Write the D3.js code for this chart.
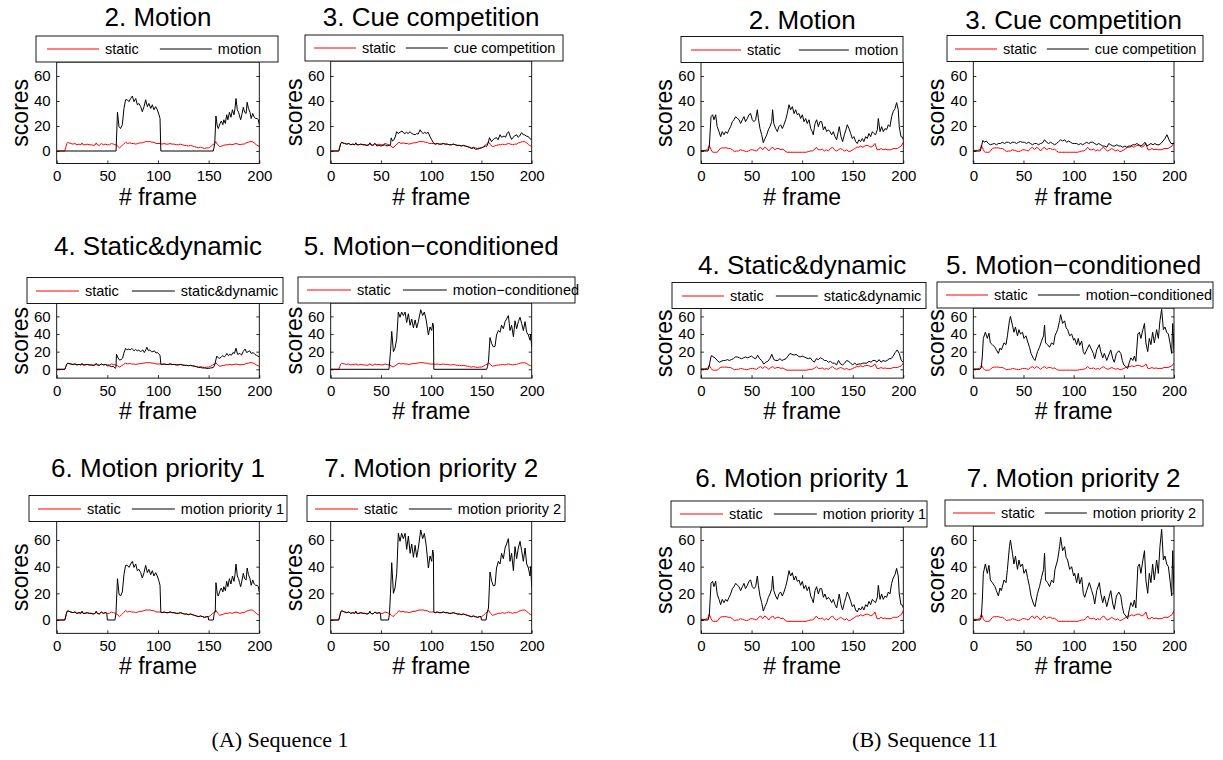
<!DOCTYPE html>
<html>
<head>
<meta charset="utf-8">
<script src="https://cdn.jsdelivr.net/npm/d3@7"></script>
<style>
body{margin:0;background:#fff}
svg{display:block}
</style>
</head>
<body>
<svg width="1223" height="760"></svg>
<script>
////////////////////////////////////////////////////////////// data
var frameTicks=[0,50,100,150,200];
var scoreTicks=[0,20,40,60];
var titles=['2. Motion','3. Cue competition','4. Static&dynamic','5. Motion\u2212conditioned','6. Motion priority 1','7. Motion priority 2'];
var labels=['motion','cue competition','static&dynamic','motion\u2212conditioned','motion priority 1','motion priority 2'];
var captions=['(A) Sequence 1','(B) Sequence 11'];

// sequence 1: [frame, score]
var staticA=[[0,0],[8,0],[9,3],[10,6],[11,7],[12,6.5],[14,6],[16,5.5],[18,6],[20,5],[22,5.5],[24,5],[25,6.5],[26,5],[28,5],[30,5.5],[32,5],[34,5],[36,4.5],[38,5],[39,6.5],[40,5],[42,4.5],[44,6],[46,5],[48,5.5],[50,5],
[52,5],[54,6],[56,5.5],[58,5],[60,4],[62,2.5],[64,4],[66,5.5],[68,7],[70,6],[72,6.5],[74,6],[76,6],[78,5.5],[80,6],[82,6.5],[84,6.5],[86,7],[88,7.5],[90,7.5],[92,7.5],[94,7],[96,7],[98,6],[100,6],[102,6],
[104,5.5],[106,6],[108,5.5],[110,5.5],[112,6],[114,5.5],[116,5.5],[118,5],[120,5],[122,5.5],[124,5],[126,4.5],[128,4.5],[130,4],[132,4.5],[134,4],[136,3.5],[138,3],[140,2.5],[142,3],[144,2.5],[146,2],[148,2.5],[150,2.5],
[152,3.5],[154,5],[156,6],[157,7.5],[159,5],[161,3.5],[163,4],[165,4.5],[167,5],[169,5],[171,5.5],[173,5],[175,5.5],[177,6],[179,5.5],[181,5],[183,5.5],[185,5.5],[187,6.5],[189,7],[191,7.5],[193,7.5],[195,6.5],[197,5],[199,4],[200,3.5]];
var motionA=[[0,0],[57.6,0],[58.6,0],[60,31],[61.5,19.5],[63,18],[64.8,21],[66.4,34],[68,41],[69.7,41],[71.4,39.5],[73,42],[74.7,44],[76.3,39.5],[78,42],[79.6,37],[81.2,38],[82.9,35.5],[84.5,31.5],[86.2,35.5],[87.8,41],[89.5,35.5],[91,38],[92.8,34],[94.4,37],[96,33],[97.7,35.5],[99.3,33],[101,29],[102,26],[102.8,0],
[154.6,0],[156,6],[157.2,28],[158.5,20],[159.5,18],[161,21.6],[162.5,24],[164,21],[165,25],[166.5,22],[167.8,29],[169,25],[170.5,31],[172,27],[173.5,33],[175,29],[176,34],[177,42],[178.3,33],[179.5,31],[180.5,28],[181.6,25],[183,30],[184.2,35],[185.5,31],[187,30],[188,39],[189.3,34],[190.8,31],[192,26],[193.5,30],[195,27],[196.5,26],[198,26],[199,25],[200,21]];
var cueA=[[0,0],[8,0],[9,3],[10,6],[11,7],[12,6.5],[14,6],[16,5.5],[18,6],[20,5],[22,5.5],[24,5],[25,6.5],[26,5],[28,5],[30,5.5],[32,5],[34,5],[36,4.5],[38,5],[39,6.5],[40,5],[42,4.5],[44,6],
[46,4],[48,4.5],[50,4],[52,4.5],[54,5],[56,4],[58,4.5],[59.5,5],[60.2,10.5],[61.5,8],[63,9],[64.5,12],[65.6,15.5],[67,14],[69,15],[71,16],[72.5,14.5],[74,14],[75.5,15],[77,14],[79,15.5],[80.5,14],[82,13.5],[84,13],[85.5,14],[87,13.5],[89,17],[90.5,15],[92,14],[93.5,15],[95,14],[97,15],[98.5,12],[100.5,9],[102,6.7],[104,5.5],
[106,6],[108,5.5],[110,5.5],[112,6],[114,5.5],[116,5.5],[118,5],[120,5],[122,5.5],[124,5],[126,4.5],[128,4.5],[130,4],[132,4.5],[134,4],[136,3.5],[138,3],
[140,2],[142,2.5],[144,1.5],[146,1.5],[148,2],[150,2.5],[152,3],[154,4],[155,3.5],[156.5,6],[158,10.7],[160,7.5],[161.5,9],[163,10],[165,10.7],[166.5,9],[168.5,13],[170,11],[172.5,12],[174,11],[175.5,14],[177,15.5],[178.5,12],[180,9.3],[181.5,11],[183,12],[185,13],[186.5,11],[188,12],[190,14.7],[191.5,13],[193,13],[194.5,12],[196.7,11.5],[198,10],[199,9.5],[200,9.3]];
var dynA=[[0,0],[8,0],[9,3],[10,6],[11,7],[12,6.5],[14,6],[16,5.5],[18,6],[20,5],[22,5.5],[24,5],[25,6.5],[26,5],[28,5],[30,5.5],[32,5],[34,5],[36,4.5],[38,5],[39,6.5],[40,5],[42,4.5],[44,6],[46,5],[48,5.5],
[50,4],[52,4],[54,3],[56,3.5],[57.6,1],[58.5,2],[59,17],[60.5,13],[62,10.5],[63.5,11],[65,12.5],[66.5,19],[68,23.8],[69.5,22],[71,23],[72.5,22],[74,23.5],[75,22.6],[76.5,21],[78,22.5],[79.5,21],[81,22],[82.5,20],[84,21],[85,22],[86.5,19],[88,22],[89,25],[90.5,21],[92,22],[93.5,20],[95,20],[96.5,21],[98,18.5],[99.5,19],[101,17],[102,16],[102.8,6],[104,5.5],
[106,6],[108,5.5],[110,5.5],[112,6],[114,5.5],[116,5.5],[118,5],[120,5],[122,5.5],[124,5],[126,4.5],[128,4.5],[130,4],[132,4.5],[134,4],[136,3.5],[138,3],
[140,2],[142,2],[144,1.5],[146,1.5],[148,1],[150,1],[152,1.5],[154.6,2],[156,5],[158,15],[159.5,13],[161,12.5],[162.5,14],[164,15.5],[165.5,14],[167,16],[168,18],[169.5,15.5],[171,17],[172.5,16],[174,19],[175.5,18],[177,24],[178.5,17],[180,17.5],[181,18],[182.5,16],[184,20],[186,23],[187.5,19],[189,20],[190.5,21],[192,18],[194,19],[195.5,17],[197,16],[198.5,15],[200,14]];
var condA=[[0,0],[58,0],[59.5,20],[60.7,43],[62.4,20],[64,24],[65.7,35],[67.3,65],[69,59],[70.6,65],[72.3,61],[74,65],[75.6,53],[77.3,63],[79,50],[80.6,57],[82.3,47],[84,56],[85.6,47],[87.2,54],[89.6,67.5],[91.5,61],[93.2,65],[95,56],[97.2,39],[98.8,48],[100.5,44],[101.5,52.5],[102.2,50],[102.6,0],
[155.2,0],[156,3],[157,9],[158.5,36],[160.2,29],[161.9,25.5],[163.5,26],[165,39],[166.8,44],[168.5,42],[170,50],[171.8,46],[173.5,54],[175,57],[176.8,61],[178.4,44],[180,50],[181.8,37],[183.4,55],[185,46],[186.7,54],[188.4,59],[190,52],[191.7,44],[193.4,54],[195,42],[196.7,39],[198.3,33],[199,40],[200,25]];
var prio1A=[[0,0],[8,0],[9,3],[10,6],[11,7],[12,6.5],[14,6],[16,5.5],[18,6],[20,5],[22,5.5],[24,5],[25,6.5],[26,5],[28,5],[30,5.5],[32,5],[34,5],[36,4.5],[38,5],[39,6.5],[40,5],[42,4.5],[44,6],[46,5],[48,5.5],
[49.5,5],[50,0],[57.5,0],[58.5,5],[60,31],[61.5,19.5],[63,18],[64.8,21],[66.4,34],[68,41],[69.7,41],[71.4,39.5],[73,42],[74.7,44],[76.3,39.5],[78,42],[79.6,37],[81.2,38],[82.9,35.5],[84.5,31.5],[86.2,35.5],[87.8,41],[89.5,35.5],[91,38],[92.8,34],[94.4,37],[96,33],[97.7,35.5],[99.3,33],[101,29],[102,26],[102.8,6],[104,5.5],
[106,6],[108,5.5],[110,5.5],[112,6],[114,5.5],[116,5.5],[118,5],[120,5],[122,5.5],[124,5],[126,4.5],[128,4.5],[130,4],[132,4.5],[134,4],[136,3.5],[138,3],[140,2.5],[142,3],[144,2.5],[146,2],[148,2.5],[149.5,2.5],[150,0],[154.6,0],[155.5,5],[156.5,6],
[157.2,28],[158.5,20],[159.5,18],[161,21.6],[162.5,24],[164,21],[165,25],[166.5,22],[167.8,29],[169,25],[170.5,31],[172,27],[173.5,33],[175,29],[176,34],[177,42],[178.3,33],[179.5,31],[180.5,28],[181.6,25],[183,30],[184.2,35],[185.5,31],[187,30],[188,39],[189.3,34],[190.8,31],[192,26],[193.5,30],[195,27],[196.5,26],[198,26],[199,25],[200,21]];
var prio2A=[[0,0],[8,0],[9,3],[10,6],[11,7],[12,6.5],[14,6],[16,5.5],[18,6],[20,5],[22,5.5],[24,5],[25,6.5],[26,5],[28,5],[30,5.5],[32,5],[34,5],[36,4.5],[38,5],[39,6.5],[40,5],[42,4.5],[44,6],[46,5],[48,5.5],
[49.5,5],[50,0],[57.5,0],[58.5,5],[59.5,20],[60.7,43],[62.4,20],[64,24],[65.7,35],[67.3,65],[69,59],[70.6,65],[72.3,61],[74,65],[75.6,53],[77.3,63],[79,50],[80.6,57],[82.3,47],[84,56],[85.6,47],[87.2,54],[89.6,67.5],[91.5,61],[93.2,65],[95,56],[97.2,39],[98.8,48],[100.5,44],[101.5,52.5],[102.2,50],[102.6,6],[104,5.5],
[106,6],[108,5.5],[110,5.5],[112,6],[114,5.5],[116,5.5],[118,5],[120,5],[122,5.5],[124,5],[126,4.5],[128,4.5],[130,4],[132,4.5],[134,4],[136,3.5],[138,3],[140,2.5],[142,3],[144,2.5],[146,2],[148,2.5],[149.5,2.5],[150,0],[154.6,0],[155.5,5],[157,9],
[158.5,36],[160.2,29],[161.9,25.5],[163.5,26],[165,39],[166.8,44],[168.5,42],[170,50],[171.8,46],[173.5,54],[175,57],[176.8,61],[178.4,44],[180,50],[181.8,37],[183.4,55],[185,46],[186.7,54],[188.4,59],[190,52],[191.7,44],[193.4,54],[195,42],[196.7,39],[198.3,33],[199,40],[200,25]];

// sequence 11: [frame, score]
var staticB=[[0,0.5],[2,0.5],[4,0.5],[6,1],[7,2],[8,4.3],[9,3],[10,1],[11,-0.5],[12,-1],[14,-1],[16,-1],[17,0],[19,2],[21,2.5],[23,2.5],[25,2.5],[27,2],[29,2],[31,1],[33,-0.5],[35,0],[37,0],[39,1],[41,0.5],[43,0],[45,-0.5],[47,0],[49,1],[51,1],[53,0.5],[55,0],[57,2],[59,3],[61,1],[63,3],[65,2],[67,0],[69,2],[71,3],[73,1],[75,2],[77,2],[79,1],[81,1.5],[83,0],[85,-1],
[88,-1],[92,-1],[96,-1],[100,-1],[104,-1],[106,-0.5],[108,0],[110,0],[112,1],[114,3],[116,1],[118,1],[120,1.5],[122,0],[124,1],[126,0],[128,2],[130,3],[132,1],[134,0],[136,1],[138,2],[140,1],[142,0],[144,1],[146,-0.5],[148,0],[150,1],[152,2],[154,3],[156,3],[158,4],[160,3],[162,4],[164,4.5],[166,4],[168,3],[170,4],[172,6],[174,1],[176,1],[178,2],[180,1],[182,1.5],[184,1],[186,1],[188,1],[190,2],[192,2],[194,2],[196,3],[198,4],[200,7]];
var motionB=[[0,0],[7,0],[8.2,3.5],[9.9,27.5],[11.5,29],[12.8,25],[14.5,29],[16,19.5],[17.8,15.5],[19.4,11.5],[21,15.5],[22.7,13],[24.4,15.5],[26,14],[27.7,17],[29.3,19.5],[31,23.5],[32.6,25],[34.3,27.5],[36,26],[37.6,25],[39.2,22],[40.9,25],[42.5,27.5],[44,23.5],[45.8,26],[47.4,29],[49,30],[50.7,25],[52.4,23.5],[54,25],[55.7,33],[56.7,26],[58.3,18],[60,13],[61.6,6.7],[63.3,10],[65,13],[66.6,17],[68.2,19.5],[69.9,23.5],[70.8,33],[72,22],[73.8,18],[75.5,15.5],[77,19.5],[78.7,21],[80.4,18],[82,21],[83.7,25],[85.3,30],[87,37],[88.6,33],[90.3,35.5],[92,30],[93.6,33],[95.2,29],[96.9,30],[98.5,26],[100.2,29],
[101.8,23.5],[103.5,26],[105,22],[106.8,25],[108.4,18],[110,15.5],[111,13],[112.7,22],[114.3,25],[116,19.5],[117.6,23.5],[119.3,23.5],[121,17],[122.6,19.5],[124.2,15.5],[125.9,17],[127.5,15.5],[129.2,13],[130.8,15.5],[132.5,11.5],[134.1,9],[135.7,15.5],[136.7,19.5],[138.4,11.5],[140,7.5],[141.7,13],[143.3,17],[144.6,21],[146.3,18],[148,14],[149.6,10],[151.2,11.5],[152.9,7.5],[154.5,6],[156.2,9],[157.8,7.5],[159.5,10],[161,7.5],[162.8,11.5],[164.4,10],[166,14],[167.7,11.5],[169.4,15.5],[171,14],[172.6,13],[174.3,17],[175.3,26],[177,15.5],[178.6,19.5],[180.2,15.5],[181.9,18],[183.5,17],[185.2,21],[186.8,19.5],[188.5,27.5],[190,31.5],[191.8,34],[193.4,38.7],[195,33],[196,19.5],[197.7,11.5],[199.3,11],[200,9]];
var cueB=[[0,0],[7,0],[8,3],[9.5,8.5],[11,7],[13,8],[15,6],[17,5],[19,5.5],[21,6],[23,5],[25,6],[27,6],[29,7],[31,6],[33,7],[35,7],[37,6],[39,7],[41,7],[43,6],[45,7],[47,7.5],[49,7],[51,7],[53,6],[55,7],[57,6],[59,5],[61,6],[63,6],[65,5],[67,6],[69,6.5],[71,9],[73,7],[75,6],[77,7],[79,6],[81,5],[83,6],[85,7.5],[87,9],[89,8],[91,9],[93,7],[95,8],[97,7],[99,6],
[101,6],[103,6],[105,5],[107,6],[109,5],[111,6],[113,7],[115,6],[117,7],[119,7],[121,6],[123,5],[125,6],[127,5],[129,4],[131,4],[133,3],[135,6],[137,5],[139,4],[141,4],[143,5],[145,4],[147,4],[149,3],[151,4],[153,3],[155,4],[157,4],[159,5],[161,5],[163,6],[165,5],[167,4],[169,5],[171,7],[173,4],[175,5],[177,6],[179,5],[181,6],[183,5],[185,5],[187,6],[189,8],[191,10],[193,13],[195,9],[197,6],[199,6],[200,6]];
var dynB=[[0,0],[7,0],[8,3],[10,15],[11,15.5],[12,14],[14,13],[16,10],[18,8],[20,9],[22,10],[24,10],[26,11],[28,10],[30,11],[32,12],[34,14],[36,14],[38,13],[40,12],[42,13],[44,14],[46,13],[48,14],[50,15],[52,13],[54,12],[56,16],[58,12],[60,10],[62,6],[64,8],[66,9],[68,12],[70,17],[72,11],[74,10],[76,10],[78,12],[80,10],[82,11],[84,12],[86,15],[88,18],[90,17],[92,16],[94,17],[96,15],[98,14],[100,15],
[102,14],[104,13],[106,12],[108,13],[110,10],[112,8],[114,12],[116,11],[118,13],[120,12],[122,10],[124,10],[126,8],[128,9],[130,7],[132,7],[134,5],[136,10],[138,6],[140,5],[142,7],[144,10],[146,9],[148,7],[150,5],[152,7],[154,5],[156,6],[158,6],[160,7],[162,7],[164,7],[166,9],[168,8],[170,10],[172,10],[174,8],[176,11],[178,8],[180,10],[182,9],[184,10],[186,12],[188,12],[190,15],[192,19],[194,22],[196,18],[198,10],[200,8]];
var condB=[[0,0],[6.6,0],[8,2],[9,15],[10,35],[12,42],[14,35],[15.6,41],[17,30],[19,28],[21.6,25],[23,22],[25,18],[26.6,24],[28,22],[30.6,30],[32.6,28],[34,38],[36,55],[37,60],[39,50],[40.5,42],[42,48],[44,38],[45.5,45],[47,40],[49,42],[50.5,35],[52.5,38],[54,32],[56,25],[57.5,18],[60,12],[61.5,10],[64,20],[66,25],[68,32],[70,38],[71,50],[72,30],[74,28],[76,25],[78,30],[80,28],[81.4,38],[84,45],[86,55],[87,62],[89,52],[91,55],[92.5,47],[94,45],[96,38],[98,40],[100,33],
[101,35],[103,28],[104.6,35],[106,27],[108,32],[109.6,20],[111,17],[113,22],[115.6,28],[118,22],[119.6,18],[121,12],[123,22],[125.6,28],[127,20],[129,13],[130.6,18],[133,10],[134.6,15],[137,22],[139,12],[140.5,8],[142.6,18],[145,21],[147,18],[148.5,10],[150,5],[152,3],[153.8,1],[155.5,8],[157,13],[159,10],[160.5,15],[162,9],[164,40],[165.5,42],[167,35],[169,45],[170.6,52],[172,30],[173.8,20],[175.4,35],[177,28],[178.7,42],[180.4,30],[182.7,45],[184.4,35],[186,55],[187.7,68],[189.4,45],[191,48],[192.7,42],[194.4,40],[196,30],[197.7,18],[198.7,52],[200,20]];
// priority schemes in sequence 11 give the same curves as motion / motion-conditioned
var prio1B=motionB, prio2B=condB;

var seriesA=[motionA,cueA,dynA,condA,prio1A,prio2A];
var seriesB=[motionB,cueB,dynB,condB,prio1B,prio2B];

////////////////////////////////////////////////////////////// layout
var FONT='"Liberation Sans",Arial,Helvetica,sans-serif';
var colA=[[56.7,259.3],[330.7,531.7]], colB=[[701,903.3],[973.3,1174]];
var rowY=[[151,76],[369.3,316.4],[620,540]];
var titleY={A:[26,255,477],B:[29,274,487]};
// legend box: x0,x1,y0, line length, gap between items, left pad
var legA=[[36,278,36,52,21,11],[305,563,35,42,10,9],[27,283,277.5,43,13,9],[298,575,277,44,12,9],[29,287,495.5,43,11,9],[307,565,495.5,43,11,8]];
var legB=[[681,903,36.5,50,18,10],[947,1203,35.5,42,10,8],[672,926,282.5,42,12,10],[937,1213,282,42,10,9],[671,927,501,43,11,9],[945,1203,500,42,10,8]];

var svg=d3.select('svg');

function panel(id,i,col,series,stat,leg,ty){
	var r=Math.floor(i/2);
	var x=d3.scaleLinear().domain([0,200]).range(col[i%2]);
	var y=d3.scaleLinear().domain([0,60]).range(rowY[r]);
	var left=x(0), right=x(200), bot=y(-10), top=leg[2]+26;
	var g=svg.append('g');
	g.append('clipPath').attr('id','clip'+id).append('rect')
		.attr('x',left).attr('y',top).attr('width',right-left).attr('height',bot-top);

	// ticks
	var ax=[
		[d3.axisBottom(x).tickValues(frameTicks).tickSize(-3).tickPadding(7),'translate(0,'+bot+')'],
		[d3.axisLeft(y).tickValues(scoreTicks).tickSize(-3).tickPadding(6),'translate('+left+',0)'],
		[d3.axisRight(y).tickValues(scoreTicks).tickSize(-3).tickFormat(''),'translate('+right+',0)']
	];
	ax.forEach(function(a){
		var ag=g.append('g').attr('transform',a[1]).call(a[0]);
		ag.attr('font-size',15).attr('font-family',FONT);
		ag.select('.domain').remove();
		ag.selectAll('line').attr('stroke','#000').attr('stroke-width',0.8);
		ag.selectAll('text').attr('fill','#000');
	});

	// lines
	var line=d3.line().x(function(d){return x(d[0]);}).y(function(d){return y(d[1]);});
	var lg=g.append('g').attr('clip-path','url(#clip'+id+')');
	lg.append('path').datum(stat).attr('d',line).attr('fill','none').attr('stroke','#ff0000').attr('stroke-width',1);
	lg.append('path').datum(series[i]).attr('d',line).attr('fill','none').attr('stroke','#000').attr('stroke-width',1);

	// frame
	g.append('rect').attr('x',left).attr('y',top).attr('width',right-left).attr('height',bot-top)
		.attr('fill','none').attr('stroke','#000').attr('stroke-width',0.9);

	// axis labels + title
	g.append('text').attr('x',(left+right)/2).attr('y',bot+41).attr('text-anchor','middle')
		.attr('font-family',FONT).attr('font-size',23).text('# frame');
	g.append('text').attr('transform','translate('+(left-29)+','+((top+bot)/2)+') rotate(-90)')
		.attr('text-anchor','middle').attr('font-family',FONT).attr('font-size',23).text('scores');
	g.append('text').attr('x',(left+right)/2).attr('y',ty[r]).attr('text-anchor','middle')
		.attr('font-family',FONT).attr('font-size',26).text(titles[i]);

	// legend
	var L=g.append('g');
	var cy=Math.round(leg[2]+13);
	L.append('rect').attr('x',leg[0]).attr('y',leg[2]).attr('width',leg[1]-leg[0]).attr('height',26)
		.attr('fill','#fff').attr('stroke','#000').attr('stroke-width',0.9);
	var cx=leg[0]+leg[5];
	[['static','#ff0000'],[labels[i],'#000']].forEach(function(it,k){
		L.append('line').attr('x1',cx).attr('x2',cx+leg[3]).attr('y1',cy).attr('y2',cy)
			.attr('stroke',it[1]).attr('stroke-width',1);
		var t=L.append('text').attr('x',cx+leg[3]+6).attr('y',cy).attr('dy','0.35em')
			.attr('font-family',FONT).attr('font-size',14.5).text(it[0]);
		cx+=leg[3]+6+t.node().getComputedTextLength()+leg[4];
	});
}

for(var i=0;i<6;i++){
	panel('A'+i,i,colA,seriesA,staticA,legA[i],titleY.A);
	panel('B'+i,i,colB,seriesB,staticB,legB[i],titleY.B);
}

svg.selectAll('text.cap').data(captions).enter().append('text').attr('class','cap')
	.attr('x',function(d,k){return k?925:280;}).attr('y',747).attr('text-anchor','middle')
	.attr('font-family','"Liberation Serif","Times New Roman",serif').attr('font-size',22)
	.text(function(d){return d;});
</script>
</body>
</html>
